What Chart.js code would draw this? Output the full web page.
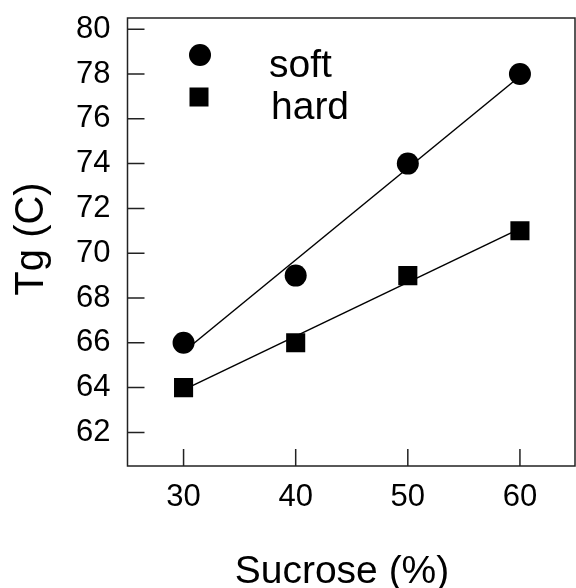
<!DOCTYPE html>
<html>
<head>
<meta charset="utf-8">
<script src="https://cdn.jsdelivr.net/npm/chart.js@4"></script>
<style>
  html, body { margin: 0; padding: 0; background: #fff; }
  #wrap { width: 576px; height: 588px; }
</style>
</head>
<body>
<div id="wrap"><canvas id="chart" width="576" height="588"></canvas></div>
<script>
// data
const sucrose = [30, 40, 50, 60];
const tgSoft = [66, 69, 74, 78];
const tgHard = [64, 66, 69, 71];
const xTicks = [30, 40, 50, 60];
const yTicks = [62, 64, 66, 68, 70, 72, 74, 76, 78, 80];

const FONT = "'Liberation Sans', Arial, sans-serif";

// least squares fit, drawn from first to last x
function fitLine(xs, ys) {
  const n = xs.length;
  const mx = xs.reduce((a, b) => a + b, 0) / n;
  const my = ys.reduce((a, b) => a + b, 0) / n;
  let sxy = 0, sxx = 0;
  xs.forEach((x, i) => { sxy += (x - mx) * (ys[i] - my); sxx += (x - mx) * (x - mx); });
  const b = sxy / sxx, a = my - b * mx;
  const x0 = Math.min(...xs), x1 = Math.max(...xs);
  return [{ x: x0, y: a + b * x0 }, { x: x1, y: a + b * x1 }];
}

const toPoints = (xs, ys) => xs.map((x, i) => ({ x: x, y: ys[i] }));

// no extra room for labels, the plot box is fixed
function noPadding(scale) {
  scale.paddingLeft = 0;
  scale.paddingRight = 0;
  scale.paddingTop = 0;
  scale.paddingBottom = 0;
}

const framePlugin = {
  id: "frame",
  afterDraw(chart) {
    const ctx = chart.ctx;
    const a = chart.chartArea;
    const xs = chart.scales.x, ys = chart.scales.y;
    ctx.save();
    ctx.strokeStyle = "#222";
    ctx.lineWidth = 1.5;
    ctx.strokeRect(a.left, a.top, a.right - a.left - 1, a.bottom - a.top);

    // inward ticks
    ctx.beginPath();
    xTicks.forEach(v => {
      const px = xs.getPixelForValue(v);
      ctx.moveTo(px, a.bottom);
      ctx.lineTo(px, a.bottom - 17);
    });
    yTicks.forEach(v => {
      const py = ys.getPixelForValue(v);
      ctx.moveTo(a.left, py);
      ctx.lineTo(a.left + 17, py);
    });
    ctx.stroke();

    // axis titles
    ctx.fillStyle = "#000";
    ctx.font = "39px " + FONT;
    ctx.textAlign = "center";
    ctx.textBaseline = "alphabetic";
    ctx.fillText("Sucrose (%)", 342, 583);
    ctx.save();
    ctx.translate(43, 239);
    ctx.rotate(-Math.PI / 2);
    ctx.font = "40px " + FONT;
    ctx.fillText("Tg (C)", 0, 0);
    ctx.restore();

    // legend
    ctx.beginPath();
    ctx.arc(200, 55, 11, 0, Math.PI * 2);
    ctx.fill();
    ctx.fillRect(189.5, 87.5, 19, 19);
    ctx.font = "39px " + FONT;
    ctx.textAlign = "left";
    ctx.fillText("soft", 269, 77);
    ctx.fillText("hard", 271, 119);
    ctx.restore();
  }
};

new Chart(document.getElementById("chart"), {
  type: "scatter",
  data: {
    datasets: [
      {
        label: "soft",
        data: toPoints(sucrose, tgSoft),
        pointStyle: "circle",
        pointRadius: 11,
        backgroundColor: "#000",
        borderColor: "#000",
        borderWidth: 0,
        order: 0
      },
      {
        label: "hard",
        data: toPoints(sucrose, tgHard),
        pointStyle: "rect",
        pointRadius: 13.5,
        backgroundColor: "#000",
        borderColor: "#000",
        borderWidth: 0,
        order: 0
      },
      {
        label: "soft fit",
        data: fitLine(sucrose, tgSoft),
        showLine: true,
        pointRadius: 0,
        borderColor: "#000",
        borderWidth: 1.5,
        order: 1
      },
      {
        label: "hard fit",
        data: fitLine(sucrose, tgHard),
        showLine: true,
        pointRadius: 0,
        borderColor: "#000",
        borderWidth: 1.5,
        order: 1
      }
    ]
  },
  options: {
    responsive: false,
    animation: false,
    events: [],
    layout: { autoPadding: false, padding: { top: 18, right: 0, left: 0, bottom: 0 } },
    plugins: {
      legend: { display: false },
      tooltip: { enabled: false }
    },
    scales: {
      x: {
        type: "linear",
        min: 25,
        max: 65,
        grid: { display: false, drawTicks: false },
        border: { display: false },
        afterBuildTicks(scale) { scale.ticks = xTicks.map(v => ({ value: v })); },
        afterFit(scale) { scale.height = 122; noPadding(scale); },
        ticks: {
          padding: 13,
          color: "#000",
          font: { family: FONT, size: 31 }
        }
      },
      y: {
        type: "linear",
        min: 60.5,
        max: 80.5,
        grid: { display: false, drawTicks: false },
        border: { display: false },
        afterBuildTicks(scale) { scale.ticks = yTicks.map(v => ({ value: v })); },
        afterFit(scale) { scale.width = 127.5; noPadding(scale); },
        ticks: {
          padding: 17,
          color: "#000",
          font: { family: FONT, size: 31 }
        }
      }
    }
  },
  plugins: [framePlugin]
});
</script>
</body>
</html>
